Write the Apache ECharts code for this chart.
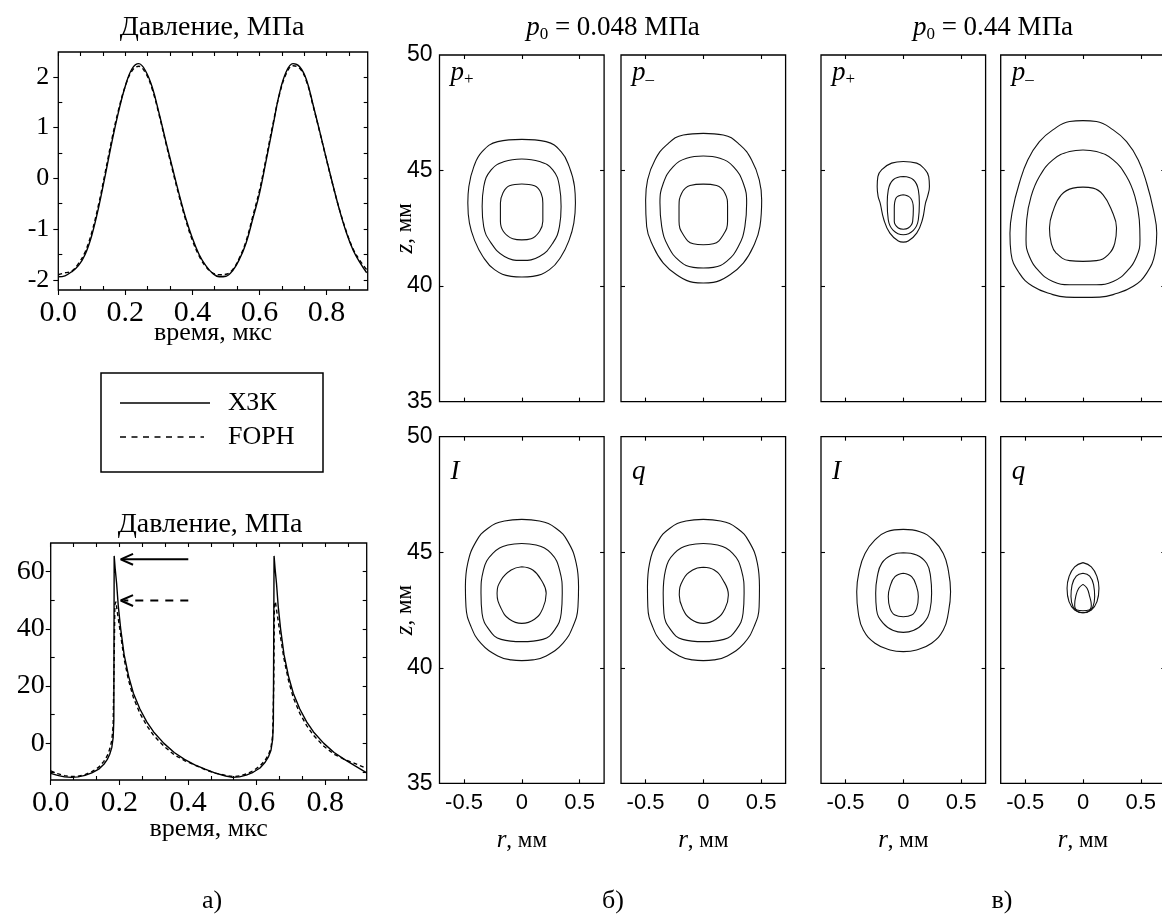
<!DOCTYPE html>
<html>
<head>
<meta charset="utf-8">
<script src="https://cdn.jsdelivr.net/npm/echarts@6/dist/echarts.min.js"></script>
<style>html,body{margin:0;padding:0;background:#fff}#chart{width:1162px;height:917px}</style>
</head>
<body>
<div id="chart"></div>
<script>
// ---------- waveforms (time in µs, pressure in MPa) ----------
const timeTop = [0,0.02,0.04,0.06,0.08,0.10,0.12,0.14,0.16,0.18,0.20,0.22,0.24,0.26,0.28,0.30,0.32,0.34,0.36,0.38,0.40,0.42,0.44,0.46,0.48,0.50,0.52,0.54,0.56,0.58,0.60,0.62,0.64,0.66,0.68,0.70,0.72,0.74,0.76,0.78,0.80,0.82,0.84,0.86,0.88,0.90,0.92];
const xzkTop = [-1.94,-1.92,-1.84,-1.72,-1.50,-1.12,-0.58,0.06,0.72,1.32,1.82,2.16,2.26,2.12,1.80,1.30,0.75,0.22,-0.30,-0.78,-1.18,-1.50,-1.72,-1.87,-1.94,-1.93,-1.82,-1.60,-1.28,-0.80,-0.30,0.35,1.02,1.68,2.10,2.26,2.20,1.95,1.45,0.92,0.38,-0.15,-0.65,-1.08,-1.42,-1.66,-1.86];
const fophTop = [-1.90,-1.86,-1.83,-1.68,-1.45,-1.06,-0.52,0.12,0.78,1.36,1.82,2.12,2.21,2.08,1.76,1.27,0.72,0.18,-0.34,-0.82,-1.22,-1.53,-1.74,-1.86,-1.90,-1.89,-1.80,-1.57,-1.24,-0.75,-0.24,0.40,1.06,1.66,2.06,2.22,2.17,1.92,1.43,0.91,0.37,-0.16,-0.64,-1.06,-1.40,-1.62,-1.80];

const xzkShock = [[0,-10.5],[0.02,-11.2],[0.04,-11.7],[0.06,-11.9],[0.08,-11.7],[0.10,-11.2],[0.12,-10.3],[0.14,-9.0],[0.155,-7.3],[0.165,-5.6],[0.172,-3.8],[0.178,-1.5],[0.182,2.0],[0.184,8.0],[0.185,65.5],[0.188,61],[0.192,56],[0.197,48],[0.204,40],[0.214,31],[0.227,23.5],[0.241,17.5],[0.26,12],[0.28,7.5],[0.30,4.0],[0.33,0],[0.36,-3.2],[0.39,-5.6],[0.42,-7.5],[0.45,-9.0],[0.48,-10.4],[0.51,-11.4],[0.53,-11.9],[0.55,-11.7],[0.57,-11.1],[0.59,-10.1],[0.61,-8.6],[0.625,-6.6],[0.635,-4.6],[0.642,-2.4],[0.647,1.5],[0.649,8.0],[0.651,65.5],[0.654,61],[0.658,56],[0.663,48],[0.67,40],[0.68,31],[0.693,23.5],[0.707,17.5],[0.726,12],[0.746,7.5],[0.766,4.0],[0.796,0],[0.826,-3.2],[0.856,-5.6],[0.886,-7.8],[0.921,-10.3]];
const fophShock = [[0,-9.6],[0.02,-10.6],[0.04,-11.3],[0.06,-11.6],[0.08,-11.5],[0.10,-10.9],[0.12,-9.9],[0.14,-8.3],[0.155,-6.3],[0.165,-4.3],[0.172,-2.0],[0.178,1.0],[0.182,6.0],[0.185,30],[0.187,48.5],[0.190,49.5],[0.194,46],[0.199,42],[0.205,37],[0.214,29.5],[0.227,22],[0.241,16],[0.26,10.5],[0.28,6.2],[0.30,2.8],[0.33,-1.0],[0.36,-4.0],[0.39,-6.0],[0.42,-7.6],[0.45,-9.2],[0.48,-10.4],[0.51,-11.2],[0.53,-11.6],[0.55,-11.4],[0.57,-10.7],[0.59,-9.6],[0.61,-7.9],[0.625,-5.9],[0.635,-3.9],[0.642,-1.6],[0.647,3.0],[0.650,20],[0.652,48.5],[0.655,49.5],[0.659,46],[0.664,42],[0.67,37],[0.68,29.5],[0.693,22],[0.707,16],[0.726,10.5],[0.746,6.2],[0.766,2.8],[0.796,-1.0],[0.826,-3.8],[0.856,-5.6],[0.886,-7.0],[0.921,-8.8]];

// peak markers: shaft and head of each arrow
const peakArrowXZK = [[0.401,64.3],[0.207,64.3]];
const peakHeadXZK = [[0.240,66.2],[0.204,64.3],[0.240,62.4]];
const peakArrowFOPH = [[0.401,49.9],[0.214,49.9]];
const peakHeadFOPH = [[0.240,51.8],[0.204,49.9],[0.240,48.0]];

// ---------- contour lines [r (mm), z (mm)] ----------
const pPlus048 = [
  [[0,46.35],[0.21,46.25],[0.34,45.82],[0.41,45.17],[0.456,44.31],[0.464,43.59],[0.45,42.72],[0.41,42.0],[0.34,41.28],[0.24,40.71],[0.095,40.42],[0,40.39],[-0.092,40.42],[-0.236,40.71],[-0.337,41.28],[-0.41,42.0],[-0.453,42.72],[-0.467,43.59],[-0.458,44.31],[-0.415,45.17],[-0.343,45.82],[-0.208,46.25]],
  [[0,45.5],[0.153,45.39],[0.268,45.03],[0.326,44.31],[0.34,43.44],[0.326,42.58],[0.268,41.86],[0.153,41.28],[0,41.11],[-0.15,41.28],[-0.265,41.86],[-0.33,42.58],[-0.343,43.44],[-0.329,44.31],[-0.265,45.03],[-0.15,45.39]],
  [[0,44.42],[0.11,44.34],[0.167,44.02],[0.182,43.59],[0.182,42.8],[0.153,42.36],[0.081,42.05],[0,42.0],[-0.078,42.05],[-0.159,42.36],[-0.185,42.8],[-0.185,43.59],[-0.164,44.02],[-0.107,44.34]]
];
const pMinus048 = [
  [[0,46.61],[0.173,46.54],[0.317,46.11],[0.418,45.46],[0.484,44.6],[0.505,43.73],[0.49,42.58],[0.433,41.71],[0.346,40.99],[0.231,40.49],[0.087,40.16],[0,40.13],[-0.087,40.16],[-0.231,40.49],[-0.346,40.99],[-0.433,41.71],[-0.49,42.58],[-0.499,43.73],[-0.482,44.6],[-0.418,45.46],[-0.317,46.11],[-0.173,46.54]],
  [[0,45.63],[0.144,45.53],[0.26,45.17],[0.346,44.45],[0.375,43.59],[0.36,42.58],[0.303,41.71],[0.202,41.07],[0.087,40.81],[0,40.78],[-0.087,40.81],[-0.202,41.07],[-0.303,41.71],[-0.36,42.58],[-0.375,43.59],[-0.346,44.45],[-0.26,45.17],[-0.144,45.53]],
  [[0,44.41],[0.115,44.35],[0.187,44.02],[0.21,43.44],[0.21,42.8],[0.173,42.22],[0.087,41.83],[0,41.79],[-0.087,41.83],[-0.173,42.22],[-0.21,42.8],[-0.21,43.44],[-0.187,44.02],[-0.115,44.35]]
];
const pPlus044 = [
  [[0,45.39],[0.116,45.32],[0.19,45.03],[0.22,44.74],[0.226,44.31],[0.21,43.88],[0.192,43.59],[0.165,42.87],[0.116,42.29],[0.043,41.95],[0,41.9],[-0.043,41.95],[-0.116,42.29],[-0.168,42.87],[-0.2,43.59],[-0.218,43.88],[-0.226,44.31],[-0.22,44.74],[-0.188,45.03],[-0.101,45.32]],
  [[0,44.74],[0.087,44.6],[0.13,44.16],[0.139,43.59],[0.13,42.87],[0.087,42.41],[0,42.22],[-0.087,42.41],[-0.13,42.87],[-0.139,43.59],[-0.13,44.16],[-0.087,44.6]],
  [[0,43.95],[0.064,43.8],[0.087,43.37],[0.081,42.8],[0.043,42.51],[0,42.46],[-0.043,42.51],[-0.078,42.8],[-0.078,43.37],[-0.064,43.8]]
];
const pMinus044 = [
  [[0,47.16],[0.116,47.12],[0.261,46.76],[0.377,46.25],[0.478,45.46],[0.551,44.45],[0.609,43.3],[0.638,42.29],[0.623,41.43],[0.551,40.56],[0.435,39.99],[0.261,39.63],[0.145,39.52],[0,39.51],[-0.145,39.52],[-0.261,39.63],[-0.435,39.99],[-0.551,40.56],[-0.623,41.43],[-0.632,42.29],[-0.609,43.3],[-0.551,44.45],[-0.478,45.46],[-0.377,46.25],[-0.261,46.76],[-0.116,47.12]],
  [[0,45.89],[0.116,45.82],[0.261,45.46],[0.377,44.74],[0.449,43.88],[0.487,42.87],[0.493,42.0],[0.464,41.28],[0.377,40.63],[0.261,40.2],[0.116,40.06],[0,40.06],[-0.116,40.06],[-0.261,40.2],[-0.377,40.63],[-0.464,41.28],[-0.493,42.0],[-0.487,42.87],[-0.449,43.88],[-0.377,44.74],[-0.261,45.46],[-0.116,45.82]],
  [[0,44.28],[0.087,44.24],[0.174,43.95],[0.246,43.3],[0.29,42.51],[0.275,41.86],[0.217,41.35],[0.116,41.1],[0,41.07],[-0.116,41.1],[-0.232,41.43],[-0.275,41.86],[-0.29,42.51],[-0.255,43.3],[-0.188,43.95],[-0.087,44.24]]
];
const intensity048 = [
  [[0,46.42],[0.153,46.35],[0.298,46.03],[0.399,45.46],[0.471,44.52],[0.491,43.51],[0.486,42.64],[0.442,41.78],[0.355,41.06],[0.211,40.51],[0.095,40.34],[0,40.31],[-0.092,40.34],[-0.208,40.51],[-0.353,41.06],[-0.439,41.78],[-0.483,42.64],[-0.488,43.51],[-0.468,44.52],[-0.396,45.46],[-0.295,46.03],[-0.15,46.35]],
  [[0,45.38],[0.124,45.31],[0.254,44.95],[0.327,44.23],[0.35,43.22],[0.341,42.36],[0.283,41.63],[0.182,41.23],[0,41.13],[-0.179,41.23],[-0.28,41.63],[-0.344,42.36],[-0.353,43.22],[-0.332,44.23],[-0.251,44.95],[-0.121,45.31]],
  [[0,44.37],[0.095,44.23],[0.168,43.8],[0.211,43.22],[0.182,42.57],[0.11,42.1],[0,41.92],[-0.107,42.1],[-0.179,42.57],[-0.214,43.22],[-0.179,43.8],[-0.092,44.23]]
];
const heat048 = [
  [[0,46.42],[0.15,46.35],[0.295,46.03],[0.396,45.46],[0.468,44.52],[0.486,43.51],[0.483,42.64],[0.439,41.78],[0.352,41.06],[0.208,40.51],[0.092,40.34],[0,40.31],[-0.092,40.34],[-0.208,40.51],[-0.352,41.06],[-0.439,41.78],[-0.48,42.64],[-0.483,43.51],[-0.465,44.52],[-0.393,45.46],[-0.292,46.03],[-0.15,46.35]],
  [[0,45.38],[0.124,45.31],[0.254,44.95],[0.33,44.23],[0.353,43.22],[0.344,42.36],[0.283,41.63],[0.179,41.23],[0,41.13],[-0.179,41.23],[-0.28,41.63],[-0.341,42.36],[-0.347,43.22],[-0.327,44.23],[-0.251,44.95],[-0.121,45.31]],
  [[0,44.35],[0.095,44.23],[0.17,43.8],[0.217,43.15],[0.188,42.57],[0.11,42.1],[0,41.92],[-0.107,42.1],[-0.179,42.57],[-0.208,43.15],[-0.176,43.8],[-0.092,44.23]]
];
const intensity044 = [
  [[0,45.99],[0.144,45.89],[0.259,45.53],[0.346,44.95],[0.389,44.23],[0.409,43.29],[0.389,42.36],[0.346,41.63],[0.245,41.06],[0.115,40.77],[0,40.7],[-0.115,40.77],[-0.245,41.06],[-0.346,41.63],[-0.389,42.36],[-0.403,43.29],[-0.38,44.23],[-0.331,44.95],[-0.245,45.53],[-0.144,45.89]],
  [[0,44.98],[0.115,44.88],[0.202,44.52],[0.236,43.94],[0.245,43.22],[0.231,42.5],[0.173,41.92],[0.086,41.61],[0,41.53],[-0.086,41.61],[-0.173,41.92],[-0.231,42.5],[-0.239,43.22],[-0.225,43.94],[-0.187,44.52],[-0.101,44.88]],
  [[0,44.09],[0.072,43.94],[0.115,43.51],[0.13,43.08],[0.115,42.57],[0.072,42.28],[0,42.21],[-0.072,42.28],[-0.115,42.57],[-0.13,43.08],[-0.115,43.51],[-0.072,43.94]]
];
const heat044 = [
  [[0,44.55],[0.072,44.37],[0.121,43.94],[0.138,43.44],[0.121,42.86],[0.072,42.5],[0,42.38],[-0.072,42.5],[-0.121,42.86],[-0.138,43.44],[-0.121,43.94],[-0.072,44.37]],
  [[0,44.09],[0.058,43.97],[0.092,43.58],[0.101,43.08],[0.086,42.64],[0.043,42.43],[0,42.38],[-0.043,42.43],[-0.086,42.64],[-0.104,43.08],[-0.095,43.58],[-0.058,43.97]],
  [[0,43.61],[0.035,43.44],[0.058,43.08],[0.072,42.72],[0.052,42.5],[0,42.47],[-0.052,42.5],[-0.072,42.72],[-0.063,43.08],[-0.037,43.44]]
];

// axis ticks / labels
const timeTicks = [0, 0.2, 0.4, 0.6, 0.8];
const pressTicksTop = [-2, -1, 0, 1, 2];
const pressTicksBot = [0, 20, 40, 60];
const rTicks = [-0.5, 0, 0.5];
const zTicks = [35, 40, 45, 50];

// ---------- layout ----------
const SERIF = '"Liberation Serif", "Times New Roman", serif';
const SANS = '"Liberation Sans", Arial, sans-serif';
const grids = [], xAxis = [], yAxis = [], series = [], graphic = [];

function subdivide(majors, n, min, max) {
  const step = majors[1] - majors[0], out = [];
  for (let v = majors[0] - step; v <= max + 1e-9; v += step) {
    for (let k = 1; k < n; k++) {
      const t = +(v + step * k / n).toFixed(6);
      if (t > min + 1e-6 && t < max - 1e-6) out.push(t);
    }
  }
  return out;
}

function baseAxis(gi, pos, min, max) {
  return {
    type: 'value', gridIndex: gi, position: pos, min, max,
    axisLine: { show: false, onZero: false },
    splitLine: { show: false },
    axisLabel: { show: false },
    axisTick: { show: false },
    nameMoveOverlap: false,
    silent: true
  };
}
function ticks(vals, inside, len) {
  return { show: vals.length > 0, customValues: vals, inside, length: len,
           lineStyle: { color: '#000', width: 1.1 } };
}

// one framed plot: returns indices of its main (bottom/left) axes
function framedPlot(box, xr, yr, o) {
  const gi = grids.length;
  grids.push({ left: box.left, top: box.top, width: box.width, height: box.height,
               show: true, borderColor: '#000', borderWidth: 1.3,
               containLabel: false, outerBoundsMode: 'none' });
  const xi = xAxis.length;
  const xb = baseAxis(gi, 'bottom', xr[0], xr[1]);
  xb.axisTick = ticks(o.xMajor, o.majorInside, o.majorLen);
  if (o.xLabel) xb.axisLabel = Object.assign({ show: true }, o.xLabel);
  if (o.xName) Object.assign(xb, o.xName);
  xAxis.push(xb);
  if (o.xMinor && o.xMinor.length) {
    const a = baseAxis(gi, 'bottom', xr[0], xr[1]);
    a.axisTick = ticks(o.xMinor, true, o.minorLen);
    xAxis.push(a);
  }
  const xt = baseAxis(gi, 'top', xr[0], xr[1]);
  xt.axisTick = ticks(o.xMajor.concat(o.xMinor || []), true, o.minorLen);
  xAxis.push(xt);

  const yi = yAxis.length;
  const yl = baseAxis(gi, 'left', yr[0], yr[1]);
  yl.axisTick = ticks(o.yMajor, o.majorInside, o.majorLen);
  if (o.yLabel) yl.axisLabel = Object.assign({ show: true }, o.yLabel);
  if (o.yName) Object.assign(yl, o.yName);
  yAxis.push(yl);
  if (o.yMinor && o.yMinor.length) {
    const a = baseAxis(gi, 'left', yr[0], yr[1]);
    a.axisTick = ticks(o.yMinor, true, o.minorLen);
    yAxis.push(a);
  }
  const yr2 = baseAxis(gi, 'right', yr[0], yr[1]);
  yr2.axisTick = ticks(o.yMajor.concat(o.yMinor || []), true, o.minorLen);
  yAxis.push(yr2);
  return { gi, xi, yi };
}

function lineSeries(name, f, data, style, smooth) {
  series.push({ type: 'line', name, xAxisIndex: f.xi, yAxisIndex: f.yi, data,
    symbol: 'none', showSymbol: false, smooth: smooth || false, clip: true,
    lineStyle: Object.assign({ color: '#000', width: 1.4 }, style),
    animation: false, silent: true, z: 3 });
}

function text(x, y, str, style) {
  graphic.push({ type: 'text', x, y, silent: true, z: 100,
    style: Object.assign({ text: str, fill: '#000', align: 'center', verticalAlign: 'middle' }, style) });
}

// ---------- panel а): pressure waveforms ----------
const timeLabel = { customValues: timeTicks, formatter: v => v.toFixed(1), margin: 8,
                    fontFamily: SERIF, fontSize: 30, color: '#000' };
const timeName = { name: 'время, мкс', nameLocation: 'middle', nameGap: 30,
                   nameTextStyle: { fontFamily: SERIF, fontSize: 26, color: '#000' } };

const topRange = [0, 0.923], topP = [-2.2, 2.49];
const fTop = framedPlot({ left: 58.3, top: 52, width: 309.4, height: 238 }, topRange, topP, {
  xMajor: timeTicks, xMinor: subdivide(timeTicks, 3, topRange[0], topRange[1]),
  yMajor: pressTicksTop, yMinor: subdivide(pressTicksTop, 2, topP[0], topP[1]),
  majorInside: false, majorLen: 5, minorLen: 4,
  xLabel: timeLabel, xName: timeName,
  yLabel: { customValues: pressTicksTop, margin: 9, fontFamily: SERIF, fontSize: 26, color: '#000' }
});
lineSeries('ХЗК', fTop, timeTop.map((t, i) => [t, xzkTop[i]]), { type: 'solid' }, 0.4);
lineSeries('FOPH', fTop, timeTop.map((t, i) => [t, fophTop[i]]), { type: [4, 3] }, 0.4);

const botRange = [0, 0.921], botP = [-12.8, 70];
const fBot = framedPlot({ left: 50.7, top: 543, width: 316, height: 237 }, botRange, botP, {
  xMajor: timeTicks, xMinor: subdivide(timeTicks, 3, botRange[0], botRange[1]),
  yMajor: pressTicksBot, yMinor: subdivide(pressTicksBot, 2, botP[0], botP[1]),
  majorInside: false, majorLen: 5, minorLen: 4,
  xLabel: timeLabel, xName: Object.assign({}, timeName, { nameGap: 36 }),
  yLabel: { customValues: pressTicksBot, margin: 6, fontFamily: SERIF, fontSize: 28, color: '#000' }
});
lineSeries('ХЗК', fBot, xzkShock, { type: 'solid' });
lineSeries('FOPH', fBot, fophShock, { type: [4, 3] });
lineSeries('peak ХЗК', fBot, peakArrowXZK, { width: 2 });
lineSeries('peak ХЗК head', fBot, peakHeadXZK, { width: 2 });
lineSeries('peak FOPH', fBot, peakArrowFOPH, { width: 2, type: [8, 7] });
lineSeries('peak FOPH head', fBot, peakHeadFOPH, { width: 2 });

text(212, 28, 'Давление, МПа', { font: '28px ' + SERIF });
text(210, 525, 'Давление, МПа', { font: '28px ' + SERIF });

// legend box
graphic.push({ type: 'rect', silent: true, z: 100,
  shape: { x: 101, y: 373, width: 222, height: 99 },
  style: { fill: 'none', stroke: '#000', lineWidth: 1.5 } });
graphic.push({ type: 'line', silent: true, z: 100, shape: { x1: 120, y1: 403, x2: 210, y2: 403 },
  style: { stroke: '#000', lineWidth: 1.5 } });
graphic.push({ type: 'line', silent: true, z: 100, shape: { x1: 120, y1: 437, x2: 204, y2: 437 },
  style: { stroke: '#000', lineWidth: 1.5, lineDash: [6, 5.5] } });
text(228, 403, 'ХЗК', { font: '26px ' + SERIF, align: 'left' });
text(228, 437, 'FOPH', { font: '26px ' + SERIF, align: 'left' });

// ---------- panels б), в): contour maps ----------
const rRange = [-0.712, 0.712], zRange = [35, 50];
const cols = [439.5, 621, 821, 1000.7];
const rows = [55, 436.7];
const PW = 164.6, PH = 346.6;
const panels = [
  { data: pPlus048, col: 0, row: 0, sym: 'p', sub: '+' },
  { data: pMinus048, col: 1, row: 0, sym: 'p', sub: '–' },
  { data: pPlus044, col: 2, row: 0, sym: 'p', sub: '+' },
  { data: pMinus044, col: 3, row: 0, sym: 'p', sub: '–' },
  { data: intensity048, col: 0, row: 1, sym: 'I', sub: '' },
  { data: heat048, col: 1, row: 1, sym: 'q', sub: '' },
  { data: intensity044, col: 2, row: 1, sym: 'I', sub: '' },
  { data: heat044, col: 3, row: 1, sym: 'q', sub: '' }
];
const nameRich = {
  i: { fontFamily: SERIF, fontStyle: 'italic', fontSize: 25, color: '#000' },
  n: { fontFamily: SERIF, fontSize: 23, color: '#000' }
};
panels.forEach(p => {
  const left = cols[p.col], top = rows[p.row];
  const o = {
    xMajor: rTicks, yMajor: [40, 45], majorInside: true, majorLen: 4, minorLen: 4
  };
  if (p.col === 0) {
    o.yLabel = { customValues: zTicks, margin: 7, fontFamily: SANS, fontSize: 23, color: '#000' };
    o.yName = { name: '{i|z}{n|, мм}', nameLocation: 'middle', nameGap: 22,
                nameTextStyle: { rich: nameRich } };
  }
  if (p.row === 1) {
    o.xLabel = { customValues: rTicks, formatter: v => (v === 0 ? '0' : String(v)), margin: 9,
                 fontFamily: SANS, fontSize: 22, color: '#000' };
    o.xName = { name: '{i|r}{n|, мм}', nameLocation: 'middle', nameGap: 45,
                nameTextStyle: { rich: nameRich } };
  }
  const f = framedPlot({ left, top, width: PW, height: PH }, rRange, zRange, o);
  p.data.forEach((loop, k) => {
    lineSeries(p.sym + p.sub + ' ' + (k + 1), f, loop.concat([loop[0]]), { width: 1.1, color: '#111' }, 0.45);
  });
  const label = p.sub ? '{i|' + p.sym + '}{s|' + p.sub + '}' : '{i|' + p.sym + '}';
  graphic.push({ type: 'text', x: left + 11, y: top + (p.row === 0 ? 18 : 35), silent: true, z: 100,
    style: { text: label, align: 'left', verticalAlign: 'middle',
      rich: {
        i: { fontFamily: SERIF, fontStyle: 'italic', fontSize: 27, lineHeight: 30, color: '#000' },
        s: { fontFamily: SERIF, fontSize: 17, lineHeight: 18, verticalAlign: 'bottom', color: '#000' }
      } } });
});

// column headers
const headRich = {
  i: { fontFamily: SERIF, fontStyle: 'italic', fontSize: 27, lineHeight: 30, color: '#000' },
  s: { fontFamily: SERIF, fontSize: 17, lineHeight: 14, verticalAlign: 'bottom', color: '#000' },
  n: { fontFamily: SERIF, fontSize: 27, lineHeight: 30, color: '#000' }
};
graphic.push({ type: 'text', x: 613, y: 28, silent: true, z: 100,
  style: { text: '{i|p}{s|0}{n| = 0.048 МПа}', align: 'center', verticalAlign: 'middle', rich: headRich } });
graphic.push({ type: 'text', x: 993, y: 28, silent: true, z: 100,
  style: { text: '{i|p}{s|0}{n| = 0.44 МПа}', align: 'center', verticalAlign: 'middle', rich: headRich } });

// sub-figure letters
text(212, 901, 'а)', { font: '26px ' + SERIF });
text(613, 901, 'б)', { font: '26px ' + SERIF });
text(1002, 901, 'в)', { font: '26px ' + SERIF });

const chart = echarts.init(document.getElementById('chart'), null, { renderer: 'canvas' });
chart.setOption({
  animation: false,
  backgroundColor: '#fff',
  grid: grids, xAxis, yAxis, series, graphic
});
</script>
</body>
</html>
